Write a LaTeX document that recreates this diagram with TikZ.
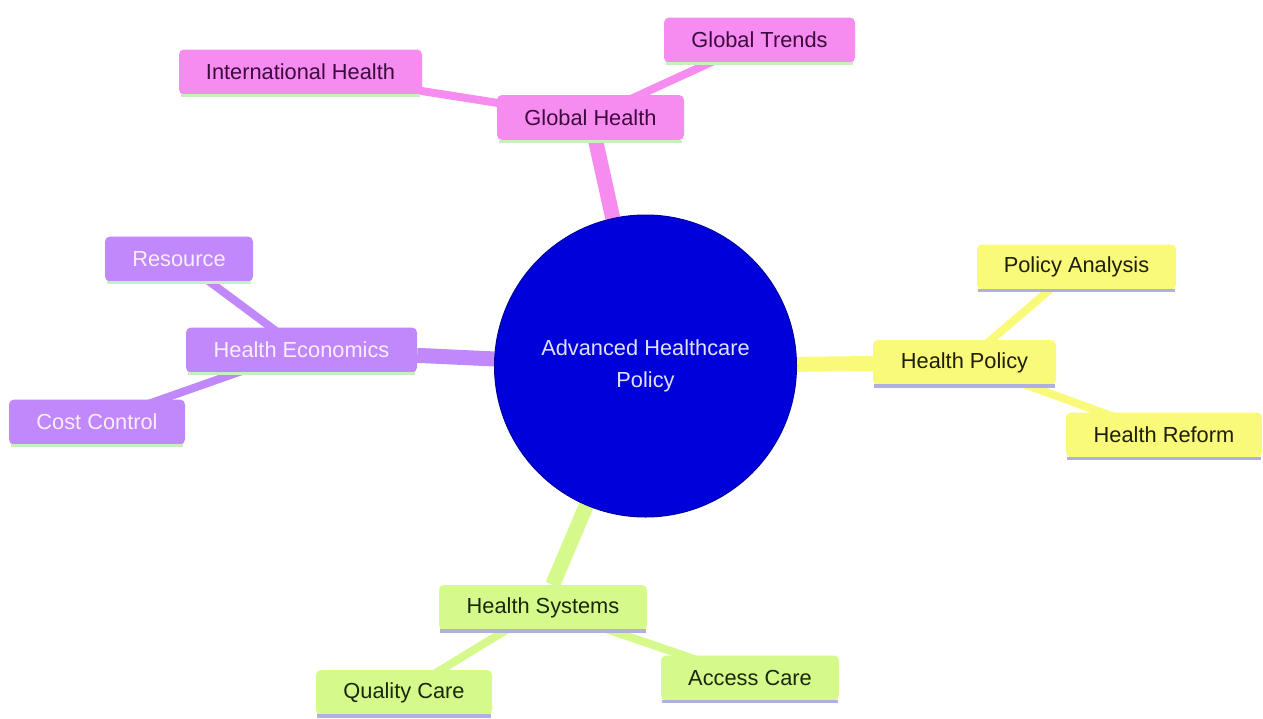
\documentclass[tikz,border=0pt]{standalone}
\usepackage{fontspec}
\setmainfont{Liberation Sans}
\usetikzlibrary{backgrounds}
\definecolor{pinkfill}{RGB}{246,140,240}
\definecolor{pinktext}{RGB}{60,10,60}
\definecolor{purplefill}{RGB}{192,136,250}
\definecolor{purpletext}{RGB}{248,238,255}
\definecolor{yellowfill}{RGB}{250,250,122}
\definecolor{yellowtext}{RGB}{30,30,10}
\definecolor{greenfill}{RGB}{214,249,140}
\definecolor{greentext}{RGB}{25,40,10}
\definecolor{rootfill}{RGB}{0,0,218}
\definecolor{rootdraw}{RGB}{0,0,160}
\definecolor{roottext}{RGB}{225,225,255}
\definecolor{gbar}{RGB}{200,240,190}
\definecolor{lbar}{RGB}{176,176,224}
\tikzset{
  box/.style={rectangle, rounded corners=5pt, minimum height=45pt, inner sep=0pt,
    font=\fontsize{21.8}{26}\selectfont},
  pinkbox/.style={box, fill=pinkfill, text=pinktext},
  purplebox/.style={box, fill=purplefill, text=purpletext},
  yellowbox/.style={box, fill=yellowfill, text=yellowtext},
  greenbox/.style={box, fill=greenfill, text=greentext},
  rootnode/.style={circle, fill=rootfill, draw=rootdraw, line width=1pt, minimum size=302pt,
    inner sep=0pt, align=center, text=roottext, font=\fontsize{21.8}{32}\selectfont},
  mainedge/.style={line width=15pt},
  subedge/.style={line width=8pt},
  gbarline/.style={draw=gbar, line width=3pt},
  lbarline/.style={draw=lbar, line width=3.5pt},
}
\begin{document}
\begin{tikzpicture}[x=1pt,y=1pt]
\useasboundingbox (0,0) rectangle (1263,-718);
% root
\node[rootnode] (root) at (645.5,-366) {Advanced Healthcare\\Policy};
% global health
\node[pinkbox, minimum width=187pt] (gh) at (590.5,-117.5) {Global Health};
\node[pinkbox, minimum width=243pt] (ih) at (300.5,-72) {International Health};
\node[pinkbox, minimum width=191pt] (gt) at (759.5,-40) {Global Trends};
% health economics
\node[purplebox, minimum width=231pt] (he) at (301.5,-350) {Health Economics};
\node[purplebox, minimum width=148pt] (res) at (179,-259) {Resource};
\node[purplebox, minimum width=176pt] (cc) at (97,-422) {Cost Control};
% health policy
\node[yellowbox, minimum width=183pt] (hp) at (964.5,-362.5) {Health Policy};
\node[yellowbox, minimum width=199pt] (pa) at (1076.5,-267) {Policy Analysis};
\node[yellowbox, minimum width=196pt] (hr) at (1164,-435) {Health Reform};
% health systems
\node[greenbox, minimum width=208pt] (hs) at (543,-607.5) {Health Systems};
\node[greenbox, minimum width=176pt] (qc) at (404,-692.5) {Quality Care};
\node[greenbox, minimum width=178pt] (ac) at (750,-678) {Access Care};
\begin{scope}[on background layer]
\fill[white] (0,0) rectangle (1263,-718);
\draw[mainedge, pinkfill] (root) -- (gh);
\draw[subedge, pinkfill] (gh.center) -- (ih.center);
\draw[subedge, pinkfill] (gh.center) -- (gt.center);
\draw[mainedge, purplefill] (root) -- (he);
\draw[subedge, purplefill] (he.center) -- (res.center);
\draw[subedge, purplefill] (he.center) -- (cc.center);
\draw[mainedge, yellowfill] (root) -- (hp);
\draw[subedge, yellowfill] (hp.center) -- (pa.center);
\draw[subedge, yellowfill] (hp.center) -- (hr.center);
\draw[mainedge, greenfill] (root) -- (hs);
\draw[subedge, greenfill] (hs.center) -- (qc.center);
\draw[subedge, greenfill] (hs.center) -- (ac.center);
\end{scope}
\foreach \n in {gh,ih,gt,he,res,cc}
  \draw[gbarline] ([xshift=2pt,yshift=-1pt]\n.south west) -- ([xshift=-2pt,yshift=-1pt]\n.south east);
\foreach \n in {hp,pa,hr,hs,qc,ac}
  \draw[lbarline] ([xshift=1pt,yshift=-1pt]\n.south west) -- ([xshift=-1pt,yshift=-1pt]\n.south east);
\end{tikzpicture}
\end{document}
